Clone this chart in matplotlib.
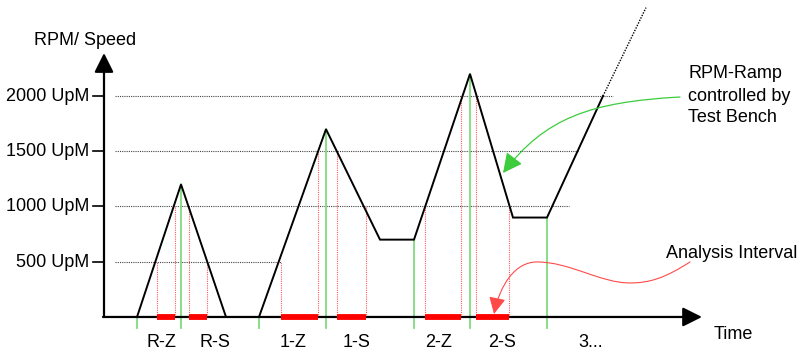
import numpy as np
import matplotlib
matplotlib.use("Agg")
import matplotlib.pyplot as plt
from matplotlib.patches import FancyArrowPatch
from matplotlib.path import Path

plt.rcParams['font.family'] = ['Liberation Sans', 'DejaVu Sans']

# speed profile (time in arbitrary units, rpm)
ramp_t = [33, 77, 122, 155, 222, 276, 310, 366, 409, 443, 499]
ramp_rpm = [0, 1200, 0, 0, 1700, 700, 700, 2200, 900, 900, 2000]
cont_t = [499, 542]
cont_rpm = [2000, 2800]

# y grid / ticks
grid_rpm = [500, 1000, 1500, 2000]
grid_end = [177, 465, 474, 509]
tick_labels = ['500 UpM', '1000 UpM', '1500 UpM', '2000 UpM']

# green markers (start of each ramp segment)
green_t = [33, 77, 155, 222, 310, 366, 443]
green_top = [0, 1200, 0, 1700, 700, 2200, 900]

# analysis intervals
iv_names = ['R-Z', 'R-S', '1-Z', '1-S', '2-Z', '2-S']
iv_start = [53, 85, 177, 233, 321, 372]
iv_end = [71, 103, 214, 262, 357, 405]
iv_rpm_start = [500, 1000, 500, 1500, 1000, 2000]
iv_rpm_end = [1000, 500, 1500, 1000, 2000, 1000]
label_t = [57, 111, 189, 253, 335, 398]

fig = plt.figure(figsize=(8.05, 3.52), dpi=100)
ax = fig.add_axes([0, 0, 1, 1])
ax.set_xlim(-104, 701)
ax.set_ylim(-317, 2869)
ax.axis('off')

fs = 13

# gridlines + ticks + labels
for r, e, lab in zip(grid_rpm, grid_end, tick_labels):
    ax.plot([11, e], [r, r], ls=(0, (1, 1)), lw=0.8, color='#444444', zorder=1)
    ax.plot([-11, 0], [r, r], color='black', lw=1.2, zorder=3)
    ax.text(-15, r - 45, lab, ha='right', va='baseline', fontsize=fs)

# red dotted interval markers
for s, e, rs, re_ in zip(iv_start, iv_end, iv_rpm_start, iv_rpm_end):
    ax.plot([s, s], [0, rs], ls=(0, (1, 1)), lw=0.8, color='#ff5a5a', zorder=2)
    ax.plot([e, e], [0, re_], ls=(0, (1, 1)), lw=0.8, color='#ff5a5a', zorder=2)

# green verticals
for t, top in zip(green_t, green_top):
    ax.plot([t, t], [-100, top], color='#7fdc7f', lw=1.3, zorder=2)

# axes with arrows
ax.annotate('', xy=(0, 2389), xytext=(0, 0),
            arrowprops=dict(arrowstyle='-|>,head_length=0.9,head_width=0.45',
                            lw=1.6, color='black', mutation_scale=13,
                            shrinkA=0, shrinkB=0), zorder=4)
ax.annotate('', xy=(598, 0), xytext=(-1, 0),
            arrowprops=dict(arrowstyle='-|>,head_length=0.9,head_width=0.45',
                            lw=1.6, color='black', mutation_scale=13,
                            shrinkA=0, shrinkB=0), zorder=4)

# speed ramp
ax.plot(ramp_t, ramp_rpm, color='black', lw=1.4, zorder=5, solid_joinstyle='miter')
ax.plot(cont_t, cont_rpm, color='black', lw=1.0, ls=(0, (1, 1)), zorder=5)

# red interval bars
for s, e in zip(iv_start, iv_end):
    ax.plot([s, e], [0, 0], color='red', lw=4.2, solid_capstyle='butt', zorder=6)

# texts
ax.text(-19, 2462, 'RPM/ Speed', ha='center', va='baseline', fontsize=fs)
for t, name in zip(label_t, iv_names):
    ax.text(t, -271, name, ha='center', va='baseline', fontsize=fs)
ax.text(487, -271, '3...', ha='center', va='baseline', fontsize=fs)
ax.text(610, -199, 'Time', ha='left', va='baseline', fontsize=fs)
ax.text(584, 2163, 'RPM-Ramp', ha='left', va='baseline', fontsize=fs)
ax.text(584, 1955, 'controlled by', ha='left', va='baseline', fontsize=fs)
ax.text(584, 1765, 'Test Bench', ha='left', va='baseline', fontsize=fs)
ax.text(562, 534, 'Analysis Interval', ha='left', va='baseline', fontsize=fs)

# curved callout arrows
g_path = Path([(576, 1991), (486, 1946), (441, 1801), (399, 1303)],
              [Path.MOVETO, Path.CURVE4, Path.CURVE4, Path.CURVE4])
ax.add_patch(FancyArrowPatch(path=g_path,
                             arrowstyle='-|>,head_length=0.6,head_width=0.3',
                             mutation_scale=20, color='#3ccc3c', lw=0.9,
                             zorder=7))
r_path = Path([(586, 498), (561, 353), (546, 308), (526, 308),
               (496, 308), (466, 498), (433, 498),
               (411, 498), (396, 290), (390, 27)],
              [Path.MOVETO] + [Path.CURVE4] * 9)
ax.add_patch(FancyArrowPatch(path=r_path,
                             arrowstyle='-|>,head_length=0.6,head_width=0.3',
                             mutation_scale=17, color='#ff4a4a', lw=0.8,
                             zorder=7))

fig.savefig('out.png', dpi=100)
